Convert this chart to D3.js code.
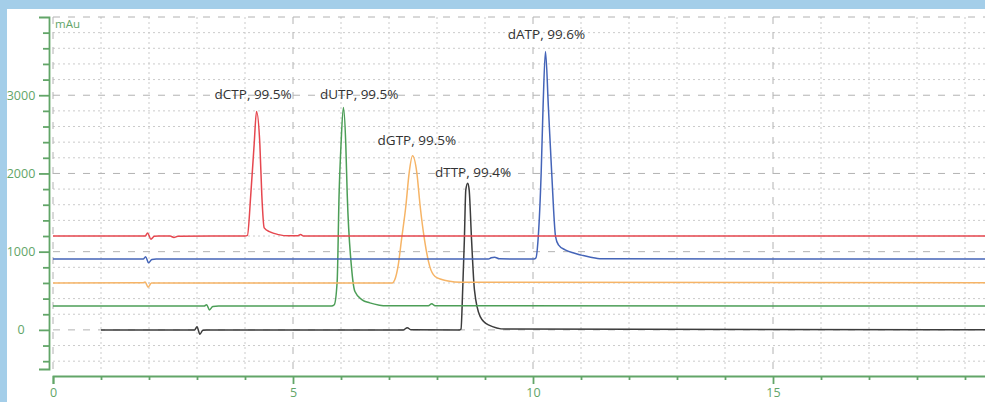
<!DOCTYPE html>
<html>
<head>
<meta charset="utf-8">
<script src="https://cdn.jsdelivr.net/npm/d3@7"></script>
<style>
  body { margin: 0; background: #a4cee9; overflow: hidden; }
  svg { display: block; }
</style>
</head>
<body>
<div id="app"></div>
<script>
/////////DATA ([minutes, mAu])/////////

const dCTP = [[0,1200],[1.92,1200],[1.97,1238],[2.04,1160],[2.11,1196],[2.2,1200],[2.44,1200],[2.52,1182],[2.6,1198],[4.0,1200],
  [4.05,1208],[4.12,1726],[4.19,2366],[4.24,2792],[4.31,2366],[4.35,1726],[4.40,1304],[4.52,1253],[4.7,1218],[4.9,1202],
  [5.1,1203],[5.16,1218],[5.22,1201],[20,1200]];

const dATP = [[0,905],[1.88,905],[1.93,936],[1.99,858],[2.06,900],[2.15,905],[9.07,905],[9.13,922],[9.2,930],[9.3,908],
  [10.02,905],[10.06,918],[10.11,1193],[10.17,2003],[10.21,2856],[10.26,3559],[10.32,2856],[10.39,2003],[10.47,1193],
  [10.53,1087],[10.67,1023],[10.85,982],[11.01,956],[11.2,928],[11.43,908],[20,905]];

const dGTP = [[0,600],[1.87,602],[1.92,612],[1.98,546],[2.05,598],[2.15,600],[7.07,600],[7.12,640],[7.19,818],[7.26,1151],
  [7.35,1577],[7.42,2008],[7.49,2225],[7.58,2008],[7.65,1577],[7.74,1151],[7.85,809],[7.96,682],[8.1,645],[8.23,625],
  [8.5,608],[20,604]];

const dUTP = [[0,305],[3.15,305],[3.2,322],[3.26,255],[3.33,300],[3.45,305],[5.8,305],[5.86,322],[5.92,618],[5.96,1726],
  [6.00,2366],[6.05,2843],[6.10,2366],[6.13,1726],[6.22,793],[6.29,490],[6.44,384],[6.6,345],[6.8,316],[6.95,308],
  [7.82,308],[7.89,334],[7.96,308],[20,305]];

const dTTP = [[1.0,0],[2.95,0],[3.0,40],[3.06,-55],[3.12,-5],[3.2,0],[7.3,0],[7.38,28],[7.46,2],[8.47,0],[8.5,10],
  [8.535,511],[8.57,1151],[8.60,1790],[8.64,1876],[8.67,1790],[8.72,1151],[8.78,511],[8.90,170],[9.07,64],[9.42,10],[20,0]];

const seriesNames = ['dTTP', 'dUTP', 'dGTP', 'dATP', 'dCTP'];
const seriesData = [dTTP, dUTP, dGTP, dATP, dCTP];
const seriesColors = ['#3c3c3c', '#4c9e57', '#f6b466', '#4464b8', '#e6474f'];

const peakNames = ['dCTP', 'dUTP', 'dGTP', 'dTTP', 'dATP'];
const peakPurity = ['99.5%', '99.5%', '99.5%', '99.4%', '99.6%'];
const labelTime = [4.17, 6.38, 7.58, 8.75, 10.28];
const labelValue = [2950, 2950, 2366, 1960, 3717];

const yTickLabels = [0, 1000, 2000, 3000];
const xTickLabels = [0, 5, 10, 15];

/////////SVG/////////

const w = 985, h = 402;
const green = '#62a568';

const svg = d3.select('#app')
  .append('svg')
  .attr('width', w)
  .attr('height', h);

svg.append('rect')
  .attr('x', 7).attr('y', 9)
  .attr('width', w - 7).attr('height', h - 9)
  .attr('fill', '#ffffff');

const x = d3.scaleLinear().domain([0, 20]).range([53, 1013]);
const y = d3.scaleLinear().domain([-500, 4000]).range([369, 17]);

/////////GRID/////////

const yMinor = d3.range(-400, 4000, 200).filter(v => v % 1000 !== 0);
const yMajor = [0, 1000, 2000, 3000, 4000];
const xMinor = d3.range(1, 21).filter(v => v % 5 !== 0);
const xMajor = [0, 5, 10, 15, 20];

const grid = svg.append('g');

grid.selectAll('.hminor').data(yMinor).enter().append('line')
  .attr('x1', x(0)).attr('x2', w)
  .attr('y1', d => y(d)).attr('y2', d => y(d))
  .attr('stroke', '#cbcbcb').attr('stroke-dasharray', '2,3');

grid.selectAll('.vminor').data(xMinor).enter().append('line')
  .attr('x1', d => x(d)).attr('x2', d => x(d))
  .attr('y1', y(4000)).attr('y2', y(-500))
  .attr('stroke', '#cbcbcb').attr('stroke-dasharray', '2,3');

grid.selectAll('.hmajor').data(yMajor).enter().append('line')
  .attr('x1', x(0)).attr('x2', w)
  .attr('y1', d => y(d)).attr('y2', d => y(d))
  .attr('stroke', '#b2b2b2').attr('stroke-dasharray', '7,8');

grid.selectAll('.vmajor').data(xMajor).enter().append('line')
  .attr('x1', d => x(d)).attr('x2', d => x(d))
  .attr('y1', y(4000)).attr('y2', y(-500))
  .attr('stroke', '#b2b2b2').attr('stroke-dasharray', '7,8');

/////////AXES/////////

const yAxisMinor = svg.append('g')
  .attr('transform', 'translate(49,0)')
  .call(d3.axisLeft(y).tickValues(yMinor).tickSize(6).tickSizeOuter(0).tickFormat(''));
yAxisMinor.select('.domain').remove();

const yAxis = svg.append('g')
  .attr('transform', 'translate(49,0)')
  .call(d3.axisLeft(y).tickValues(yTickLabels).tickSize(10).tickSizeOuter(10).tickFormat(d3.format('d')));

const xAxisMinor = svg.append('g')
  .attr('transform', 'translate(0,376)')
  .call(d3.axisBottom(x).tickValues(xMinor).tickSize(4).tickSizeOuter(0).tickFormat(''));
xAxisMinor.select('.domain').remove();

const xAxis = svg.append('g')
  .attr('transform', 'translate(0,376)')
  .call(d3.axisBottom(x).tickValues(xTickLabels).tickSize(8).tickSizeOuter(8).tickFormat(d3.format('d')));

svg.selectAll('.domain, .tick line')
  .attr('stroke', green)
  .attr('stroke-width', 1.8);

yAxis.selectAll('.tick text')
  .attr('x', -28)
  .attr('text-anchor', 'middle');

xAxis.selectAll('.tick text')
  .attr('y', 12);

svg.selectAll('.tick text')
  .attr('fill', green)
  .style('font-family', '"Open Sans", sans-serif')
  .style('font-size', '12.5px');

svg.append('text')
  .attr('x', 55)
  .attr('y', 28)
  .attr('fill', green)
  .style('font-family', '"Open Sans", sans-serif')
  .style('font-size', '11.5px')
  .text('mAu');

/////////TRACES/////////

const line = d3.line()
  .x(d => x(d[0]))
  .y(d => y(d[1]))
  .curve(d3.curveMonotoneX);

svg.append('g')
  .selectAll('path')
  .data(seriesData)
  .enter()
  .append('path')
  .attr('d', line)
  .attr('fill', 'none')
  .attr('stroke', (d, i) => seriesColors[i])
  .attr('stroke-width', 1.5)
  .attr('stroke-linejoin', 'round');

/////////PEAK LABELS/////////

svg.append('g')
  .selectAll('text')
  .data(peakNames)
  .enter()
  .append('text')
  .attr('x', (d, i) => x(labelTime[i]))
  .attr('y', (d, i) => y(labelValue[i]))
  .attr('text-anchor', 'middle')
  .attr('fill', '#333333')
  .style('font-family', '"Open Sans", sans-serif')
  .style('font-size', '13.5px')
  .text((d, i) => d + ', ' + peakPurity[i]);
</script>
</body>
</html>
